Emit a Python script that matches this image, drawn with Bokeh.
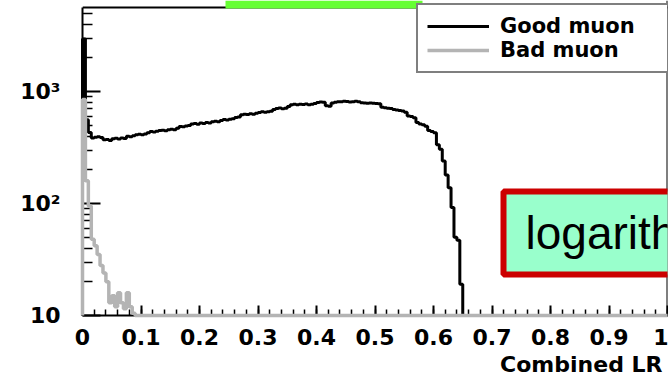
import numpy as np
from bokeh.plotting import figure
from bokeh.models import (Range1d, FixedTicker, Legend, LegendItem,
                          BoxAnnotation, Label, Span)
from bokeh.embed import file_html
from bokeh.resources import INLINE

# ---------------- data ----------------
bin_width = 0.005
n_bins = 200
series_names = ["Good muon", "Bad muon"]

# entries per bin (0.005 wide), starting at 0; empty bins afterwards
good_muon = [
    2950, 560, 430, 385, 390, 395, 388, 370, 372, 365,
    378, 382, 376, 384, 380, 398, 395, 402, 410, 415,
    412, 418, 428, 440, 436, 442, 448, 452, 447, 456,
    460, 455, 470, 488, 484, 492, 498, 512, 518, 510,
    522, 518, 528, 524, 536, 542, 538, 552, 562, 558,
    566, 572, 585, 592, 620, 628, 622, 632, 626, 640,
    650, 658, 652, 660, 668, 690, 705, 712, 700, 708,
    735, 760, 768, 762, 770, 766, 772, 760, 768, 780,
    798, 805, 802, 745, 740, 790, 800, 812, 808, 818,
    815, 805, 812, 818, 810, 795, 790, 784, 790, 786,
    782, 776, 722, 716, 710, 705, 692, 684, 678, 670,
    652, 605, 598, 582, 530, 512, 505, 490, 448, 440,
    428, 335, 305, 240, 180, 138, 92, 50, 47, 19,
]
bad_muon = [850, 160, 95, 48, 42, 35, 28, 24, 20, 13,
            15, 12, 16, 13, 11.5, 16, 12, 10.5]

x_ticks = [0, 0.1, 0.2, 0.3, 0.4, 0.5, 0.6, 0.7, 0.8, 0.9, 1]
x_tick_labels = ["0", "0.1", "0.2", "0.3", "0.4", "0.5", "0.6", "0.7",
                 "0.8", "0.9", "1"]
y_ticks = [10, 100, 1000]
y_tick_labels = ["10", "10\u00b2", "10\u00b3"]
x_title = "Combined LR"
note_text = "logarithmic"

y_min, y_top = 10, 5623      # histogram frame (log axis)
y_canvas_top = 6494          # value at the very top of the picture

# ---------------- figure ----------------
font = "DejaVu Sans"
p = figure(width=668, height=379, x_range=Range1d(0, 1),
           y_range=Range1d(y_min, y_canvas_top), y_axis_type="log",
           output_backend="svg", toolbar_location=None,
           title=x_title, title_location="below",
           min_border_left=82, min_border_right=1, min_border_top=0,
           min_border_bottom=64)
p.background_fill_color = "white"
p.border_fill_color = "white"
p.xgrid.visible = False
p.ygrid.visible = False
p.outline_line_color = None

p.title.align = "right"
p.title.text_font = font
p.title.text_font_style = "bold"
p.title.text_font_size = "22px"
p.title.text_color = "black"
p.title.offset = 5
p.title.standoff = 5

edges = np.round(np.arange(n_bins + 1) * bin_width, 4)


def step_xy(vals):
    v = np.zeros(n_bins)
    v[:len(vals)] = vals
    v = np.where(v > 0, v, y_min)  # empty bins drawn on the frame bottom
    xs = np.concatenate([[edges[0]], edges])
    ys = np.concatenate([[y_min], v, [v[-1]]])
    return xs, ys


gx, gy = step_xy(good_muon)
bx, by = step_xy(bad_muon)
r_good = p.step(gx, gy, mode="after", line_color="black", line_width=3)
r_bad = p.step(bx, by, mode="after", line_color="#b4b4b4", line_width=3.5)
r_good.level = "overlay"
r_bad.level = "overlay"

# histogram frame: top and right edges
p.add_layout(Span(location=y_top, dimension="width", line_color="black",
                  line_width=2))
p.add_layout(Span(location=1, dimension="height", line_color="black",
                  line_width=2))

# ---------------- axes ----------------
for ax in (p.xaxis[0], p.yaxis[0]):
    ax.axis_line_width = 2
    ax.axis_line_color = "black"
    ax.major_tick_out = 0
    ax.minor_tick_out = 0
    ax.major_tick_line_width = 2
    ax.minor_tick_line_width = 1.5
    ax.major_label_text_font = font
    ax.major_label_text_font_style = "bold"
    ax.major_label_text_font_size = "22px"
    ax.major_label_text_color = "black"

p.xaxis.ticker = FixedTicker(
    ticks=x_ticks,
    minor_ticks=[round(v, 2) for v in np.arange(0, 1.001, 0.02)])
p.xaxis.major_label_overrides = dict(zip(x_ticks, x_tick_labels))
p.xaxis.major_tick_in = 10
p.xaxis.minor_tick_in = 6
p.xaxis.major_label_standoff = 13

y_minor = [m * d for d in (10, 100, 1000) for m in range(2, 10)
           if m * d < y_top]
p.yaxis.ticker = FixedTicker(ticks=y_ticks, minor_ticks=y_minor)
p.yaxis.major_label_overrides = dict(zip(y_ticks, y_tick_labels))
p.yaxis.major_tick_in = 18
p.yaxis.minor_tick_in = 10
p.yaxis.major_label_standoff = 22
p.yaxis.bounds = (y_min, y_top)

# ---------------- legend ----------------
legend = Legend(items=[LegendItem(label=series_names[0], renderers=[r_good]),
                       LegendItem(label=series_names[1], renderers=[r_bad])],
                location=(334, 242), margin=0, padding=9, spacing=0,
                glyph_width=62, glyph_height=24, label_height=24,
                label_width=160, label_standoff=11,
                label_text_font=font, label_text_font_style="bold",
                label_text_font_size="21px", label_text_color="black",
                border_line_color="black", border_line_width=2,
                background_fill_color="white", background_fill_alpha=1)
p.add_layout(legend)

# ---------------- slide decorations ----------------
p.add_layout(BoxAnnotation(left=225, right=422, top=0, bottom=8,
                           left_units="canvas", right_units="canvas",
                           top_units="canvas", bottom_units="canvas",
                           fill_color="#66ff33", fill_alpha=1,
                           line_alpha=0, level="overlay"))
p.add_layout(BoxAnnotation(left=503, right=690, top=191, bottom=274,
                           left_units="canvas", right_units="canvas",
                           top_units="canvas", bottom_units="canvas",
                           fill_color="#99ffcc", fill_alpha=1,
                           line_color="#cc0000", line_width=6,
                           line_alpha=1, level="overlay"))
p.add_layout(Label(x=525, y=232, x_units="canvas", y_units="canvas",
                   text=note_text, text_align="left",
                   text_baseline="alphabetic", text_font="Liberation Sans",
                   text_font_size="46px", text_color="black",
                   level="overlay"))

open("out.html", "w").write(file_html(p, INLINE))
